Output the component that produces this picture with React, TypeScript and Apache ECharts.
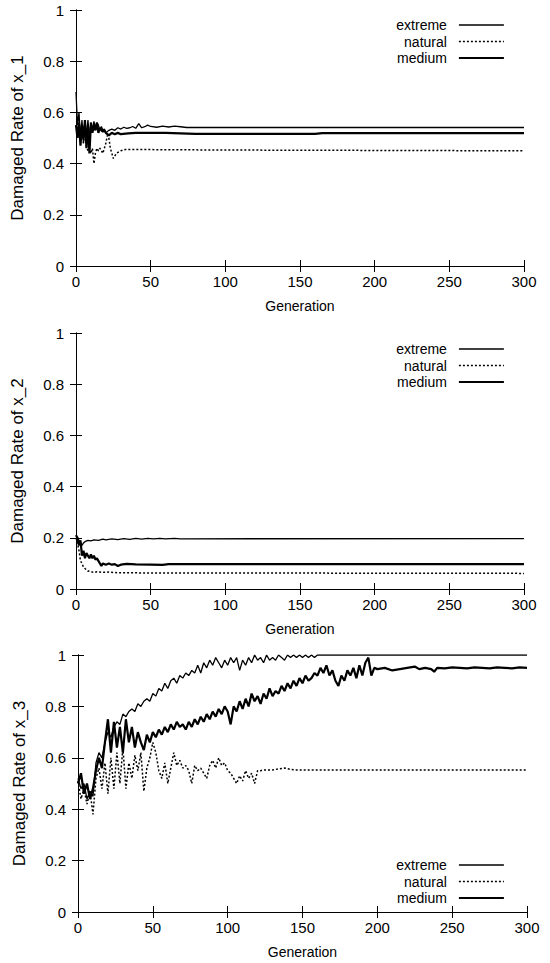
import React, { useEffect, useRef } from 'react';
import * as echarts from 'echarts';

const FONT = '"Liberation Sans", Arial, Helvetica, sans-serif';

const seriesNames = ['extreme', 'natural', 'medium'];
const yTitles = ['Damaged Rate of x_1', 'Damaged Rate of x_2', 'Damaged Rate of x_3'];

// ---- Panel 1 : x_1 ----
const ext1Gen = [0,1,2,3,4,5,6,7,8,9,10,11,12,13,14,15,16,17,18,19,20,22,24,26,28,30,32,34,36,38,40,42,44,46,48,50,54,58,62,66,70,74,300];
const ext1Val = [0.68,0.55,0.60,0.50,0.57,0.48,0.55,0.51,0.57,0.50,0.56,0.53,0.565,0.54,0.56,0.55,0.53,0.545,0.53,0.535,0.52,0.53,0.535,0.53,0.54,0.535,0.542,0.538,0.54,0.545,0.538,0.556,0.54,0.544,0.55,0.545,0.542,0.546,0.543,0.546,0.544,0.541,0.541];
const nat1Gen = [0,1,2,3,4,5,6,7,8,9,10,11,12,13,14,15,16,18,20,21,22,23,25,27,30,33,40,100,300];
const nat1Val = [0.55,0.52,0.57,0.50,0.55,0.48,0.52,0.47,0.45,0.46,0.44,0.46,0.40,0.44,0.46,0.45,0.46,0.44,0.48,0.51,0.50,0.46,0.42,0.44,0.45,0.455,0.455,0.453,0.45];
const med1Gen = [0,1,2,3,4,5,6,7,8,9,10,11,12,13,14,15,16,17,18,19,20,22,24,26,28,30,35,40,60,80,160,165,300];
const med1Val = [0.55,0.50,0.56,0.47,0.55,0.50,0.57,0.46,0.55,0.44,0.56,0.52,0.55,0.53,0.56,0.52,0.54,0.53,0.525,0.53,0.52,0.51,0.52,0.515,0.52,0.515,0.518,0.52,0.52,0.516,0.516,0.519,0.519];

// ---- Panel 2 : x_2 ----
const ext2Gen = [0,1,2,3,4,5,6,8,10,12,15,18,20,24,28,32,36,40,44,48,52,56,60,66,70,300];
const ext2Val = [0.21,0.20,0.19,0.18,0.17,0.18,0.185,0.19,0.188,0.192,0.19,0.195,0.192,0.196,0.193,0.197,0.194,0.198,0.195,0.198,0.196,0.198,0.196,0.198,0.196,0.197];
const nat2Gen = [0,1,2,3,4,5,6,8,10,12,14,16,18,22,26,40,300];
const nat2Val = [0.20,0.18,0.15,0.11,0.10,0.085,0.08,0.07,0.068,0.064,0.067,0.066,0.065,0.066,0.064,0.063,0.061];
const med2Gen = [0,1,2,3,4,5,6,7,8,9,10,11,12,13,14,15,17,18,20,22,24,26,28,30,34,40,50,58,62,300];
const med2Val = [0.21,0.20,0.17,0.19,0.13,0.15,0.12,0.14,0.13,0.12,0.135,0.12,0.13,0.115,0.12,0.11,0.09,0.10,0.095,0.10,0.095,0.097,0.09,0.095,0.098,0.096,0.095,0.094,0.097,0.097];

// ---- Panel 3 : x_3 ----
const ext3Gen = [0,2,4,6,8,10,12,14,16,18,20,22,24,26,28,30,32,34,36,38,40,42,44,46,48,50,52,54,56,58,60,62,64,66,68,70,72,74,76,78,80,82,84,86,88,90,92,94,96,98,100,102,104,106,108,110,112,114,116,118,120,122,124,126,128,130,132,134,136,138,140,142,144,146,148,150,152,154,156,158,160,162,164,300];
const ext3Val = [0.52,0.48,0.50,0.44,0.47,0.45,0.58,0.62,0.60,0.66,0.70,0.68,0.72,0.74,0.73,0.77,0.76,0.78,0.79,0.78,0.81,0.80,0.82,0.83,0.82,0.85,0.84,0.87,0.86,0.89,0.87,0.90,0.91,0.89,0.92,0.91,0.93,0.92,0.94,0.93,0.96,0.93,0.97,0.95,0.98,0.96,0.99,0.97,0.95,0.98,0.96,0.99,0.97,0.99,0.94,0.98,0.96,0.99,0.97,1.0,0.98,0.99,0.97,1.0,0.98,0.99,0.98,1.0,0.99,0.98,1.0,0.99,1.0,0.99,1.0,0.99,1.0,0.99,1.0,0.99,1.0,1.0,1.0,1.0];
const nat3Gen = [0,2,4,6,8,10,12,14,16,18,20,22,24,26,28,30,32,34,36,38,40,42,44,46,48,50,52,54,56,58,60,62,64,66,68,70,72,74,76,78,80,82,84,86,88,90,92,94,96,98,100,102,104,106,108,110,112,114,116,118,120,122,124,130,138,142,146,300];
const nat3Val = [0.51,0.44,0.48,0.42,0.47,0.38,0.52,0.56,0.48,0.58,0.46,0.60,0.48,0.62,0.50,0.64,0.48,0.58,0.52,0.61,0.55,0.62,0.47,0.56,0.60,0.66,0.62,0.55,0.52,0.58,0.50,0.56,0.62,0.57,0.59,0.56,0.57,0.55,0.50,0.57,0.55,0.56,0.54,0.52,0.57,0.59,0.56,0.60,0.57,0.58,0.55,0.54,0.52,0.50,0.53,0.51,0.55,0.52,0.54,0.50,0.55,0.55,0.553,0.553,0.56,0.555,0.553,0.553];
const med3Gen = [0,2,4,6,8,10,12,14,16,18,20,22,24,26,28,30,32,34,36,38,40,42,44,46,48,50,52,54,56,58,60,62,64,66,68,70,72,74,76,78,80,82,84,86,88,90,92,94,96,98,100,102,104,106,108,110,112,114,116,118,120,122,124,126,128,130,132,134,136,138,140,142,144,146,148,150,152,154,156,158,160,162,164,166,168,170,172,174,176,178,180,182,184,186,188,190,192,194,196,198,200,205,210,215,220,225,228,232,236,238,240,245,250,255,260,265,270,275,280,285,290,295,300];
const med3Val = [0.50,0.54,0.46,0.50,0.44,0.48,0.55,0.60,0.56,0.66,0.75,0.62,0.74,0.64,0.72,0.62,0.75,0.66,0.72,0.64,0.70,0.66,0.63,0.69,0.66,0.70,0.68,0.71,0.69,0.72,0.70,0.73,0.71,0.74,0.72,0.73,0.71,0.74,0.72,0.75,0.73,0.76,0.74,0.77,0.75,0.78,0.76,0.79,0.77,0.80,0.78,0.73,0.80,0.78,0.82,0.79,0.83,0.80,0.85,0.82,0.84,0.81,0.85,0.83,0.87,0.84,0.86,0.85,0.88,0.86,0.89,0.87,0.90,0.88,0.91,0.89,0.92,0.90,0.91,0.93,0.92,0.95,0.93,0.96,0.92,0.94,0.90,0.88,0.92,0.90,0.94,0.92,0.95,0.91,0.96,0.92,0.97,0.99,0.92,0.95,0.945,0.95,0.94,0.945,0.95,0.955,0.945,0.95,0.945,0.935,0.95,0.948,0.952,0.95,0.948,0.952,0.95,0.948,0.952,0.95,0.948,0.952,0.95];

const panels = [
  { ext: [ext1Gen, ext1Val], nat: [nat1Gen, nat1Val], med: [med1Gen, med1Val] },
  { ext: [ext2Gen, ext2Val], nat: [nat2Gen, nat2Val], med: [med2Gen, med2Val] },
  { ext: [ext3Gen, ext3Val], nat: [nat3Gen, nat3Val], med: [med3Gen, med3Val] },
];

const zip = (g: number[], v: number[]) => g.map((x, i) => [x, v[i]]);

const grids = [
  { left: 76, right: 26, top: 10, height: 256 },
  { left: 76, right: 26, top: 333, height: 256 },
  { left: 78, right: 23, top: 655, height: 257 },
];
const legendTops = [13, 337, 853];

const lineStyles: Record<string, any> = {
  extreme: { color: '#000', width: 1.3 },
  natural: { color: '#000', width: 1.5, type: [2, 2] },
  medium: { color: '#000', width: 2.2 },
};

function buildOption() {
  const axisLine = { show: true, lineStyle: { color: '#000', width: 1 } };
  const tick = { show: true, inside: true, length: 6, lineStyle: { color: '#000', width: 1 } };
  const xAxis: any[] = [];
  const yAxis: any[] = [];
  const series: any[] = [];
  grids.forEach((_, i) => {
    xAxis.push({
      type: 'value', gridIndex: i, min: 0, max: 300, interval: 50, position: 'bottom',
      axisLine, axisTick: tick, splitLine: { show: false },
      axisLabel: { color: '#000', fontSize: 15, fontFamily: FONT, margin: 8 },
      name: 'Generation', nameLocation: 'middle', nameGap: 33,
      nameTextStyle: { color: '#000', fontSize: 14, fontFamily: FONT },
    });
    xAxis.push({
      type: 'value', gridIndex: i, min: 0, max: 300, interval: 50, position: 'top',
      axisLine, axisTick: tick, splitLine: { show: false }, axisLabel: { show: false },
    });
    yAxis.push({
      type: 'value', gridIndex: i, min: 0, max: 1, interval: 0.2, position: 'left',
      axisLine, axisTick: tick, splitLine: { show: false },
      axisLabel: { color: '#000', fontSize: 15, fontFamily: FONT, margin: 12 },
      name: yTitles[i], nameLocation: 'middle', nameGap: 50,
      nameTextStyle: { color: '#000', fontSize: 17, fontFamily: FONT },
    });
    yAxis.push({
      type: 'value', gridIndex: i, min: 0, max: 1, interval: 0.2, position: 'right',
      axisLine, axisTick: tick, splitLine: { show: false }, axisLabel: { show: false },
    });
    const p = panels[i];
    const common = { xAxisIndex: 2 * i, yAxisIndex: 2 * i, type: 'line', symbol: 'none', smooth: false };
    series.push({ ...common, name: 'extreme', data: zip(p.ext[0], p.ext[1]), lineStyle: lineStyles.extreme, itemStyle: { color: '#000' } });
    series.push({ ...common, name: 'natural', data: zip(p.nat[0], p.nat[1]), lineStyle: lineStyles.natural, itemStyle: { color: '#000' } });
    series.push({ ...common, name: 'medium', data: zip(p.med[0], p.med[1]), lineStyle: lineStyles.medium, itemStyle: { color: '#000' } });
  });
  const legend = legendTops.map((t) => ({
    data: seriesNames.map((n) => ({ name: n, lineStyle: lineStyles[n] })),
    orient: 'vertical', right: 40, top: t, align: 'right',
    itemWidth: 45, itemHeight: 14, itemGap: 2.5, selectedMode: false,
    textStyle: { color: '#000', fontSize: 14, fontFamily: FONT, padding: [0, 7, 0, 0] },
    itemStyle: { color: 'rgba(0,0,0,0)', borderWidth: 0, opacity: 0 },
  }));
  return {
    animation: false,
    backgroundColor: '#fff',
    grid: grids,
    xAxis, yAxis, series, legend,
  };
}

export default function App() {
  const ref = useRef<HTMLDivElement>(null);
  useEffect(() => {
    document.body.style.margin = '0';
    const chart = echarts.init(ref.current!, null, { renderer: 'svg' });
    chart.setOption(buildOption() as any);
    return () => chart.dispose();
  }, []);
  return <div ref={ref} style={{ width: 550, height: 963 }} />;
}
